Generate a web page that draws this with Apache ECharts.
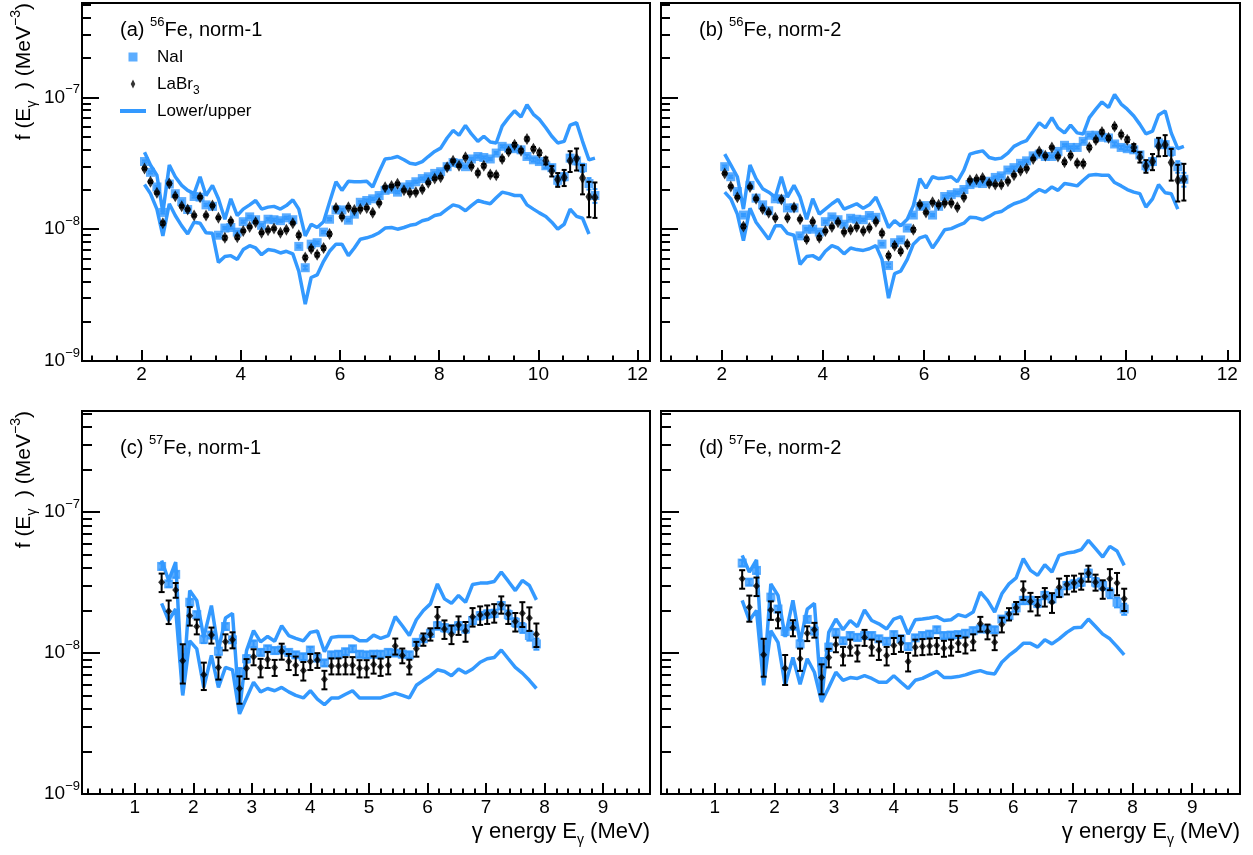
<!DOCTYPE html>
<html>
<head>
<meta charset="utf-8">
<title>Gamma strength functions of 56Fe and 57Fe</title>
<script src="https://cdn.jsdelivr.net/npm/echarts@6/dist/echarts.min.js"></script>
<style>
  html, body { margin: 0; padding: 0; background: #fff; }
  #chart { width: 1253px; height: 855px; }
</style>
</head>
<body>
<div id="chart"></div>
<script>
// Gamma-ray strength function f(Eγ), values in units of 1e-8 MeV^-3.
const UNIT = 1e-8;

// ---- 56Fe (upper row): gamma energies in MeV ----
const energyFe56 = [2.06, 2.18, 2.31, 2.43, 2.56, 2.68, 2.81, 2.93, 3.06, 3.18,
  3.30, 3.43, 3.55, 3.68, 3.80, 3.93, 4.05, 4.18, 4.30, 4.42,
  4.55, 4.67, 4.80, 4.92, 5.05, 5.17, 5.30, 5.42, 5.54, 5.67,
  5.79, 5.92, 6.04, 6.17, 6.29, 6.41, 6.54, 6.66, 6.79, 6.91,
  7.04, 7.16, 7.29, 7.41, 7.53, 7.66, 7.78, 7.91, 8.03, 8.16,
  8.28, 8.40, 8.53, 8.65, 8.78, 8.90, 9.03, 9.15, 9.27, 9.40,
  9.52, 9.65, 9.77, 9.90, 10.02, 10.15, 10.27, 10.39, 10.52, 10.64,
  10.77, 10.89, 11.02, 11.14];

// (a) 56Fe, norm-1
const naiFe56n1 = [3.26, 2.70, 2.09, 1.34, 2.20, 1.86, 1.62, 1.41, 1.77, 1.75,
  1.53, 1.49, 0.90, 1.02, 1.03, 0.95, 1.14, 1.24, 1.18, 1.07,
  1.19, 1.18, 1.16, 1.22, 1.18, 0.74, 0.51, 0.77, 0.79, 0.95,
  1.19, 1.40, 1.40, 1.17, 1.30, 1.60, 1.65, 1.70, 1.80, 1.97,
  2.01, 1.91, 2.09, 2.18, 2.29, 2.42, 2.50, 2.65, 2.73, 2.98,
  3.20, 3.16, 2.98, 3.41, 3.56, 3.50, 3.41, 3.78, 4.25, 4.12,
  4.08, 4.00, 3.56, 3.36, 3.26, 3.03, 2.93, 2.35, 2.50, 3.46,
  3.30, 2.93, 2.22, 1.80];
const naiErrFe56n1 = [2, 2, 2, 2, 2, 2, 2, 2, 2, 2, 2, 2, 2, 2, 2, 2, 2, 2, 2, 2,
  2, 2, 2, 2, 2, 2, 3, 2, 2, 2, 2, 2, 2, 2, 2, 2, 2, 2, 2, 2,
  2, 2, 2, 2, 2, 2, 2, 2, 2, 2, 2, 2, 2, 2, 2, 2, 2, 2, 2, 3,
  3, 3, 3, 3, 3, 4, 5, 8, 6, 6, 6, 7, 10, 12];
const labrFe56n1 = [2.89, 2.29, 1.89, 1.11, 2.22, 1.78, 1.49, 1.41, 1.27, 1.75,
  1.27, 1.51, 1.22, 0.86, 1.15, 0.87, 0.97, 1.04, 1.13, 0.94,
  0.98, 1.01, 0.94, 0.99, 1.11, 0.90, 0.61, 0.71, 0.64, 0.72,
  0.92, 1.45, 1.24, 1.47, 1.40, 1.42, 1.45, 1.33, 1.58, 2.08,
  2.13, 2.21, 1.97, 1.89, 1.91, 2.01, 2.25, 2.42, 2.48, 2.95,
  3.30, 3.03, 3.52, 3.00, 2.67, 3.03, 2.60, 2.57, 3.41, 3.89,
  4.38, 3.94, 4.84, 4.08, 3.80, 3.30, 2.76, 2.38, 2.47, 3.31,
  3.44, 2.45, 1.76, 1.74];
const labrErrFe56n1 = [2, 2, 2, 3, 2, 2, 2, 2, 2, 2, 2, 2, 2, 3, 2, 3, 2, 2, 2, 2,
  2, 2, 2, 2, 2, 3, 3, 3, 3, 3, 3, 2, 2, 2, 2, 2, 2, 2, 2, 2,
  2, 2, 2, 2, 2, 2, 2, 2, 2, 2, 2, 2, 2, 2, 3, 3, 3, 3, 3, 3,
  3, 3, 3, 3, 4, 6, 9, 12, 14, 18, 19, 25, 30, 30];
const upperFe56n1 = [3.84, 3.07, 2.57, 1.34, 3.07, 2.50, 2.15, 1.97, 1.86, 2.50,
  1.80, 2.15, 1.70, 1.19, 1.70, 1.27, 1.42, 1.53, 1.65, 1.42,
  1.47, 1.49, 1.42, 1.51, 1.67, 1.42, 0.89, 1.09, 1.03, 1.14,
  1.60, 2.29, 1.97, 2.31, 2.29, 2.29, 2.31, 2.09, 2.73, 3.41,
  3.46, 3.56, 3.36, 3.16, 3.11, 3.26, 3.56, 3.89, 4.12, 4.92,
  5.61, 5.16, 6.13, 5.28, 4.64, 5.07, 4.59, 4.51, 6.05, 7.02,
  7.90, 7.10, 8.78, 7.44, 6.81, 5.88, 5.07, 4.51, 4.64, 6.16,
  6.42, 4.64, 3.36, 3.46];
const lowerFe56n1 = [2.18, 1.86, 1.42, 0.89, 1.56, 1.27, 1.06, 0.92, 1.13, 1.11,
  0.94, 0.93, 0.56, 0.62, 0.63, 0.59, 0.70, 0.75, 0.72, 0.64,
  0.70, 0.69, 0.66, 0.68, 0.65, 0.48, 0.27, 0.43, 0.45, 0.57,
  0.68, 0.77, 0.77, 0.63, 0.72, 0.84, 0.86, 0.89, 0.94, 1.02,
  1.03, 1.00, 1.03, 1.07, 1.09, 1.16, 1.19, 1.27, 1.30, 1.42,
  1.53, 1.49, 1.38, 1.51, 1.65, 1.60, 1.56, 1.73, 1.91, 1.86,
  1.80, 1.80, 1.53, 1.42, 1.33, 1.25, 1.13, 1.00, 1.09, 1.42,
  1.25, 1.21, 0.92];

// (b) 56Fe, norm-2
const naiFe56n2 = [2.98, 2.50, 1.93, 1.28, 2.15, 1.72, 1.53, 1.38, 1.70, 1.69,
  1.45, 1.45, 0.89, 1.00, 1.00, 0.95, 1.14, 1.24, 1.18, 1.09,
  1.21, 1.19, 1.18, 1.27, 1.23, 0.77, 0.53, 0.79, 0.83, 1.02,
  1.28, 1.49, 1.51, 1.28, 1.49, 1.77, 1.83, 1.89, 2.00, 2.18,
  2.24, 2.22, 2.31, 2.47, 2.54, 2.81, 2.93, 3.16, 3.30, 3.60,
  3.71, 3.56, 3.56, 3.89, 4.33, 4.17, 4.17, 4.64, 5.16, 5.16,
  4.98, 4.92, 4.43, 4.17, 4.08, 4.00, 3.66, 3.03, 3.26, 4.51,
  4.38, 3.89, 2.98, 2.39];
const naiErrFe56n2 = [2, 2, 2, 2, 2, 2, 2, 2, 2, 2, 2, 2, 2, 2, 2, 2, 2, 2, 2, 2,
  2, 2, 2, 2, 2, 2, 3, 2, 2, 2, 2, 2, 2, 2, 2, 2, 2, 2, 2, 2,
  2, 2, 2, 2, 2, 2, 2, 2, 2, 2, 2, 2, 2, 2, 2, 2, 2, 2, 2, 3,
  3, 3, 3, 3, 3, 4, 5, 8, 6, 8, 6, 7, 10, 12];
const labrFe56n2 = [2.65, 2.11, 1.75, 1.05, 2.09, 1.70, 1.42, 1.33, 1.22, 1.68,
  1.22, 1.46, 1.19, 0.84, 1.14, 0.86, 0.97, 1.04, 1.13, 0.95,
  0.99, 1.04, 0.97, 1.02, 1.14, 0.93, 0.63, 0.75, 0.68, 0.77,
  0.99, 1.54, 1.34, 1.60, 1.53, 1.58, 1.58, 1.47, 1.75, 2.35,
  2.39, 2.45, 2.22, 2.18, 2.18, 2.31, 2.57, 2.78, 2.89, 3.41,
  3.89, 3.60, 4.17, 3.56, 3.22, 3.62, 3.16, 3.14, 4.17, 4.75,
  5.47, 4.92, 6.00, 5.22, 4.78, 4.17, 3.52, 3.01, 3.26, 4.25,
  4.38, 3.20, 2.35, 2.39];
const labrErrFe56n2 = [2, 2, 2, 3, 2, 2, 2, 2, 2, 2, 2, 2, 2, 3, 2, 3, 2, 2, 2, 2,
  2, 2, 2, 2, 2, 3, 3, 3, 3, 3, 3, 2, 2, 2, 2, 2, 2, 2, 2, 2,
  2, 2, 2, 2, 2, 2, 2, 2, 2, 2, 2, 2, 2, 2, 3, 3, 3, 3, 3, 3,
  3, 3, 3, 3, 4, 6, 9, 11, 14, 16, 18, 27, 31, 31];
const upperFe56n2 = [3.71, 3.07, 2.50, 1.42, 3.07, 2.42, 2.03, 1.91, 1.75, 2.50,
  1.75, 2.15, 1.75, 1.19, 1.70, 1.30, 1.42, 1.56, 1.68, 1.42,
  1.49, 1.56, 1.44, 1.53, 1.75, 1.38, 1.03, 1.16, 1.06, 1.19,
  1.51, 2.42, 2.05, 2.50, 2.42, 2.45, 2.50, 2.29, 2.81, 3.71,
  3.84, 3.93, 3.50, 3.41, 3.46, 3.78, 4.25, 4.51, 4.70, 5.54,
  6.42, 5.88, 7.02, 5.88, 5.38, 6.16, 5.38, 5.28, 7.02, 8.14,
  9.23, 8.38, 10.5, 8.89, 8.14, 7.23, 6.24, 5.28, 5.54, 7.35,
  7.90, 5.38, 4.08, 4.25];
const lowerFe56n2 = [1.91, 1.70, 1.30, 0.82, 1.44, 1.13, 0.97, 0.84, 1.06, 1.06,
  0.93, 0.90, 0.54, 0.62, 0.63, 0.59, 0.68, 0.75, 0.72, 0.65,
  0.72, 0.70, 0.69, 0.71, 0.75, 0.59, 0.30, 0.46, 0.48, 0.59,
  0.77, 0.86, 0.89, 0.72, 0.84, 0.99, 1.01, 1.06, 1.11, 1.23,
  1.22, 1.18, 1.25, 1.33, 1.36, 1.47, 1.56, 1.62, 1.70, 1.86,
  2.00, 1.91, 2.09, 1.97, 2.22, 2.18, 2.13, 2.35, 2.57, 2.60,
  2.57, 2.57, 2.26, 2.13, 2.00, 1.91, 1.86, 1.47, 1.70, 2.18,
  1.89, 1.86, 1.42];

// ---- 57Fe (lower row): gamma energies in MeV ----
const energyFe57 = [1.46, 1.58, 1.70, 1.82, 1.94, 2.06, 2.18, 2.31, 2.43, 2.55,
  2.67, 2.79, 2.91, 3.03, 3.15, 3.27, 3.39, 3.51, 3.63, 3.75,
  3.88, 4.00, 4.12, 4.24, 4.36, 4.48, 4.60, 4.72, 4.84, 4.96,
  5.08, 5.20, 5.33, 5.45, 5.57, 5.69, 5.81, 5.93, 6.05, 6.17,
  6.29, 6.41, 6.53, 6.65, 6.77, 6.90, 7.02, 7.14, 7.26, 7.38,
  7.50, 7.62, 7.74, 7.86];

// (c) 57Fe, norm-1
const naiFe57n1 = [4.11, 3.09, 3.61, 0.92, 2.29, 1.87, 1.25, 1.34, 1.03, 1.54,
  1.24, 0.73, 0.91, 1.16, 1.01, 1.07, 1.04, 1.05, 1.01, 0.97,
  0.94, 1.05, 0.92, 0.85, 0.97, 0.98, 1.02, 1.07, 0.98, 0.97,
  0.98, 0.98, 1.01, 1.00, 0.98, 0.97, 1.19, 1.26, 1.38, 1.56,
  1.51, 1.48, 1.56, 1.48, 1.70, 1.84, 1.89, 1.91, 2.17, 1.87,
  1.65, 1.51, 1.33, 1.16];
const naiErrFe57n1 = [5, 5, 5, 6, 5, 5, 6, 5, 6, 5, 5, 7, 6, 5, 5, 5, 5, 5, 5, 5,
  5, 5, 5, 5, 5, 5, 5, 5, 5, 5, 5, 5, 5, 5, 5, 5, 5, 5, 6, 6,
  6, 6, 6, 6, 6, 6, 6, 6, 6, 7, 7, 8, 8, 9];
const labrFe57n1 = [3.18, 1.98, 2.80, 0.88, 1.84, 1.54, 0.70, 1.34, 0.79, 1.20,
  1.24, 0.56, 0.78, 0.94, 0.79, 0.90, 0.79, 1.03, 0.87, 0.82,
  0.75, 0.87, 0.89, 0.65, 0.81, 0.81, 0.82, 0.82, 0.78, 0.78,
  0.83, 0.80, 0.82, 1.12, 0.96, 0.80, 1.07, 1.25, 1.36, 1.81,
  1.48, 1.36, 1.58, 1.43, 1.81, 1.86, 1.89, 1.93, 2.21, 1.89,
  1.67, 1.91, 1.77, 1.36];
const labrErrFe57n1 = [15, 19, 12, 31, 15, 12, 22, 13, 18, 13, 13, 22, 16, 13, 15, 13, 13, 13, 13, 15,
  15, 13, 12, 15, 13, 13, 14, 14, 14, 14, 14, 14, 14, 13, 12, 12, 12, 10, 10, 17,
  15, 15, 15, 16, 15, 15, 15, 15, 14, 15, 15, 20, 19, 19];
const upperFe57n1 = [4.53, 3.27, 4.41, 0.52, 2.77, 2.36, 1.29, 2.17, 1.05, 1.77,
  1.91, 0.39, 1.04, 1.44, 1.20, 1.31, 1.21, 1.56, 1.33, 1.27,
  1.22, 1.40, 1.43, 1.02, 1.29, 1.31, 1.31, 1.31, 1.22, 1.22,
  1.34, 1.27, 1.33, 1.81, 1.56, 1.33, 1.72, 2.00, 2.23, 3.09,
  2.42, 2.25, 2.56, 2.29, 3.06, 3.13, 3.14, 3.21, 3.75, 3.23,
  2.77, 3.27, 3.01, 2.38];
const lowerFe57n1 = [2.25, 1.70, 2.05, 0.50, 1.22, 1.07, 0.57, 0.96, 0.57, 0.79,
  0.76, 0.37, 0.48, 0.62, 0.53, 0.56, 0.54, 0.57, 0.53, 0.50,
  0.48, 0.54, 0.47, 0.43, 0.48, 0.48, 0.51, 0.54, 0.48, 0.48,
  0.48, 0.48, 0.50, 0.52, 0.50, 0.48, 0.59, 0.64, 0.69, 0.76,
  0.74, 0.69, 0.77, 0.72, 0.77, 0.86, 0.91, 0.93, 1.05, 0.91,
  0.79, 0.72, 0.64, 0.56];

// (d) 57Fe, norm-2
const naiFe57n2 = [4.34, 3.18, 3.85, 1.05, 2.49, 2.05, 1.42, 1.55, 1.16, 1.73,
  1.43, 0.86, 1.10, 1.40, 1.22, 1.33, 1.29, 1.33, 1.33, 1.26,
  1.21, 1.35, 1.26, 1.11, 1.28, 1.33, 1.36, 1.46, 1.33, 1.34,
  1.35, 1.38, 1.44, 1.48, 1.48, 1.46, 1.74, 1.84, 2.09, 2.36,
  2.36, 2.25, 2.56, 2.42, 2.66, 3.01, 3.09, 3.18, 3.68, 3.18,
  3.01, 2.66, 2.29, 2.05];
const naiErrFe57n2 = [5, 5, 5, 6, 5, 5, 6, 5, 6, 5, 5, 7, 6, 5, 5, 5, 5, 5, 5, 5,
  5, 5, 5, 5, 5, 5, 5, 5, 5, 5, 5, 5, 5, 5, 5, 5, 5, 5, 6, 6,
  6, 6, 6, 6, 6, 6, 6, 6, 6, 7, 7, 8, 8, 9];
const labrFe57n2 = [3.36, 2.11, 2.98, 0.97, 2.02, 1.72, 0.78, 1.51, 0.91, 1.38,
  1.46, 0.67, 0.93, 1.15, 0.96, 1.10, 1.00, 1.29, 1.10, 1.05,
  0.96, 1.13, 1.17, 0.87, 1.10, 1.11, 1.12, 1.13, 1.08, 1.10,
  1.17, 1.14, 1.20, 1.61, 1.42, 1.19, 1.59, 1.89, 2.09, 2.80,
  2.32, 2.17, 2.51, 2.29, 2.93, 3.06, 3.13, 3.23, 3.68, 3.18,
  2.85, 3.36, 3.13, 2.42];
const labrErrFe57n2 = [15, 21, 15, 30, 15, 13, 24, 13, 18, 12, 12, 24, 15, 12, 15, 13, 13, 13, 13, 15,
  15, 13, 13, 15, 13, 13, 13, 13, 13, 13, 13, 13, 13, 12, 12, 12, 12, 10, 10, 15,
  15, 15, 15, 16, 15, 15, 13, 13, 13, 13, 15, 17, 18, 18];
const upperFe57n2 = [4.92, 3.75, 4.58, 0.62, 3.09, 2.56, 1.30, 2.36, 1.20, 2.05,
  2.25, 0.46, 1.40, 1.74, 1.46, 1.70, 1.54, 2.02, 1.70, 1.61,
  1.48, 1.74, 1.81, 1.36, 1.72, 1.74, 1.77, 1.81, 1.70, 1.72,
  1.87, 1.81, 1.95, 2.70, 2.36, 1.95, 2.63, 3.09, 3.41, 4.66,
  3.85, 3.55, 4.22, 3.75, 4.92, 5.11, 5.20, 5.40, 6.29, 5.49,
  4.79, 5.70, 5.28, 4.18];
const lowerFe57n2 = [2.36, 1.70, 2.00, 0.59, 1.44, 1.19, 0.59, 0.93, 0.60, 0.91,
  0.73, 0.45, 0.57, 0.73, 0.64, 0.67, 0.66, 0.69, 0.66, 0.62,
  0.62, 0.69, 0.62, 0.56, 0.64, 0.66, 0.70, 0.74, 0.67, 0.67,
  0.68, 0.70, 0.73, 0.75, 0.72, 0.71, 0.86, 0.96, 1.05, 1.17,
  1.17, 1.10, 1.24, 1.16, 1.26, 1.40, 1.51, 1.52, 1.74, 1.54,
  1.36, 1.26, 1.11, 0.97];

// ---- axis ticks ----
const xMajorFe56 = [2, 4, 6, 8, 10, 12];
const xMinorFe56 = [1, 1.5, 2.5, 3, 3.5, 4.5, 5, 5.5, 6.5, 7, 7.5, 8.5, 9, 9.5, 10.5, 11, 11.5];
const xMajorFe57 = [1, 2, 3, 4, 5, 6, 7, 8, 9];
const xMinorFe57 = [0.2, 0.4, 0.6, 0.8, 1.2, 1.4, 1.6, 1.8, 2.2, 2.4, 2.6, 2.8, 3.2, 3.4, 3.6, 3.8,
  4.2, 4.4, 4.6, 4.8, 5.2, 5.4, 5.6, 5.8, 6.2, 6.4, 6.6, 6.8, 7.2, 7.4, 7.6, 7.8,
  8.2, 8.4, 8.6, 8.8, 9.2, 9.4, 9.6];
const yMajor = [1e-9, 1e-8, 1e-7];
const yMinor = [2e-9, 3e-9, 4e-9, 5e-9, 6e-9, 7e-9, 8e-9, 9e-9,
  2e-8, 3e-8, 4e-8, 5e-8, 6e-8, 7e-8, 8e-8, 9e-8,
  2e-7, 3e-7, 4e-7, 5e-7];

const panelLabels = ['(a) {sup|56}Fe, norm-1', '(b) {sup|56}Fe, norm-2',
                     '(c) {sup|57}Fe, norm-1', '(d) {sup|57}Fe, norm-2'];
const yTitle = 'f (E{sub|\u03b3}  ) (MeV{sup|\u22123})';
const xTitle = '\u03b3 energy E{sub|\u03b3} (MeV)';

// ---- styling ----
const BLUE = '#3399ff';
const FONT = '"Liberation Sans", Arial, Helvetica, sans-serif';
const Y_MIN = 1e-9, Y_MAX = 5.2e-7;

const panels = [
  { box: [82, 3, 568, 358], range: [0.8, 12.25], xMajor: xMajorFe56, xMinor: xMinorFe56,
    yTick: [17, 9], yLabels: true, energy: energyFe56,
    nai: naiFe56n1, naiErr: naiErrFe56n1, labr: labrFe56n1, labrErr: labrErrFe56n1,
    upper: upperFe56n1, lower: lowerFe56n1, labrSize: [7, 12], cap: 2.5 },
  { box: [661, 3, 579, 358], range: [0.8, 12.25], xMajor: xMajorFe56, xMinor: xMinorFe56,
    yTick: [17, 9], yLabels: false, energy: energyFe56,
    nai: naiFe56n2, naiErr: naiErrFe56n2, labr: labrFe56n2, labrErr: labrErrFe56n2,
    upper: upperFe56n2, lower: lowerFe56n2, labrSize: [7, 12], cap: 2.5 },
  { box: [82, 411, 568, 383], range: [0.1, 9.8], xMajor: xMajorFe57, xMinor: xMinorFe57,
    yTick: [18, 10], yLabels: true, energy: energyFe57,
    nai: naiFe57n1, naiErr: naiErrFe57n1, labr: labrFe57n1, labrErr: labrErrFe57n1,
    upper: upperFe57n1, lower: lowerFe57n1, labrSize: [7, 8], cap: 3 },
  { box: [661, 411, 579, 383], range: [0.1, 9.8], xMajor: xMajorFe57, xMinor: xMinorFe57,
    yTick: [18, 10], yLabels: false, energy: energyFe57,
    nai: naiFe57n2, naiErr: naiErrFe57n2, labr: labrFe57n2, labrErr: labrErrFe57n2,
    upper: upperFe57n2, lower: lowerFe57n2, labrSize: [7, 8], cap: 3 }
];

function points(xs, ys) {
  return ys.map((y, i) => [xs[i], y * UNIT]);
}
function errorPoints(xs, ys, pct) {
  return ys.map((y, i) => [xs[i], y * UNIT, y * UNIT * pct[i] / 100]);
}
// vertical error bar with caps, placed through the axis scales
function errorBar(color, cap, width) {
  return function (params, api) {
    const x = api.value(0), y = api.value(1), e = api.value(2);
    const hi = api.coord([x, y + e]);
    const lo = api.coord([x, Math.max(y - e, Y_MIN)]);
    const style = { stroke: color, lineWidth: width };
    return {
      type: 'group',
      children: [
        { type: 'line', shape: { x1: hi[0], y1: hi[1], x2: lo[0], y2: lo[1] }, style },
        { type: 'line', shape: { x1: hi[0] - cap, y1: hi[1], x2: hi[0] + cap, y2: hi[1] }, style },
        { type: 'line', shape: { x1: lo[0] - cap, y1: lo[1], x2: lo[0] + cap, y2: lo[1] }, style }
      ]
    };
  };
}
function powerLabel(v) {
  const e = Math.round(Math.log10(v));
  return '{b|10}{s|' + (e < 0 ? '\u2212' + (-e) : e) + '}';
}

const DIAMOND = 'path://M0,-10L5,0L0,10L-5,0Z';
const SQUARE = 'path://M0,0L10,0L10,10L0,10Z';
const BAR = 'path://M0,0L26,0L26,4L0,4Z';
const axisLine = { show: true, onZero: false, lineStyle: { color: '#000', width: 2 } };
const grids = [], xAxes = [], yAxes = [], series = [];

panels.forEach((p, k) => {
  grids.push({ left: p.box[0], top: p.box[1], width: p.box[2], height: p.box[3],
    show: true, borderColor: '#000', borderWidth: 2, backgroundColor: 'transparent',
    containLabel: false, outerBoundsMode: 'none' });

  xAxes.push({ gridIndex: k, type: 'value', position: 'bottom', min: p.range[0], max: p.range[1],
    axisLine,
    axisTick: { show: true, inside: true, length: 11, customValues: p.xMajor,
      lineStyle: { color: '#000', width: 2 } },
    axisLabel: { show: true, customValues: p.xMajor, color: '#000', fontSize: 19,
      fontFamily: FONT, margin: 4 },
    splitLine: { show: false }, minorTick: { show: false } });
  xAxes.push({ gridIndex: k, type: 'value', position: 'bottom', min: p.range[0], max: p.range[1],
    axisLine: { show: false },
    axisTick: { show: true, inside: true, length: 5.5, customValues: p.xMinor,
      lineStyle: { color: '#000', width: 2 } },
    axisLabel: { show: false }, splitLine: { show: false } });

  yAxes.push({ gridIndex: k, type: 'log', logBase: 10, position: 'left', min: Y_MIN, max: Y_MAX,
    axisLine,
    axisTick: { show: true, inside: true, length: p.yTick[0], customValues: yMajor,
      lineStyle: { color: '#000', width: 2 } },
    axisLabel: { show: p.yLabels, customValues: yMajor, formatter: powerLabel, margin: 2,
      color: '#000', fontFamily: FONT,
      rich: { b: { fontSize: 19, lineHeight: 28, fontFamily: FONT, color: '#000' },
              s: { fontSize: 13, lineHeight: 13, verticalAlign: 'top', fontFamily: FONT, color: '#000' } } },
    splitLine: { show: false } });
  yAxes.push({ gridIndex: k, type: 'log', logBase: 10, position: 'left', min: Y_MIN, max: Y_MAX,
    axisLine: { show: false },
    axisTick: { show: true, inside: true, length: p.yTick[1], customValues: yMinor,
      lineStyle: { color: '#000', width: 2 } },
    axisLabel: { show: false }, splitLine: { show: false } });

  const xi = 2 * k, yi = 2 * k;
  const lineStyle = { color: BLUE, width: 3.5 };
  series.push({ name: 'Lower/upper', type: 'line', xAxisIndex: xi, yAxisIndex: yi,
    data: points(p.energy, p.upper), showSymbol: false, symbol: 'none',
    lineStyle, itemStyle: { color: BLUE }, z: 2, silent: true });
  series.push({ name: 'Lower/upper', type: 'line', xAxisIndex: xi, yAxisIndex: yi,
    data: points(p.energy, p.lower), showSymbol: false, symbol: 'none',
    lineStyle, itemStyle: { color: BLUE }, z: 2, silent: true });
  series.push({ name: 'NaI', type: 'scatter', xAxisIndex: xi, yAxisIndex: yi,
    data: points(p.energy, p.nai), symbol: 'rect', symbolSize: 9,
    itemStyle: { color: BLUE }, z: 4, silent: true });
  series.push({ name: 'NaI', type: 'custom', xAxisIndex: xi, yAxisIndex: yi,
    data: errorPoints(p.energy, p.nai, p.naiErr), encode: { x: 0, y: 1 },
    renderItem: errorBar(BLUE, p.cap, 2), itemStyle: { color: BLUE }, z: 3, silent: true, clip: true });
  series.push({ name: 'LaBr3', type: 'scatter', xAxisIndex: xi, yAxisIndex: yi,
    data: points(p.energy, p.labr), symbol: DIAMOND, symbolSize: p.labrSize,
    itemStyle: { color: '#000' }, z: 6, silent: true });
  series.push({ name: 'LaBr3', type: 'custom', xAxisIndex: xi, yAxisIndex: yi,
    data: errorPoints(p.energy, p.labr, p.labrErr), encode: { x: 0, y: 1 },
    renderItem: errorBar('#000', p.cap, 2), itemStyle: { color: '#000' }, z: 5, silent: true, clip: true });
});

const titles = panels.map((p, k) => ({
  text: panelLabels[k], left: p.box[0] + 38, top: p.box[1] + (k < 2 ? 13 : 23),
  padding: 0,
  textStyle: { fontSize: 20, fontWeight: 'normal', color: '#000', fontFamily: FONT, lineHeight: 28,
    rich: { sup: { fontSize: 13, lineHeight: 13, verticalAlign: 'top', fontFamily: FONT, color: '#000' } } }
}));

const titleRich = {
  sub: { fontSize: 14, lineHeight: 14, verticalAlign: 'bottom', fontFamily: FONT, fill: '#000' },
  sup: { fontSize: 14, lineHeight: 14, verticalAlign: 'top', fontFamily: FONT, fill: '#000' }
};
const graphic = [
  { type: 'text', x: 24, y: 3, rotation: Math.PI / 2, silent: true,
    style: { text: yTitle, fontSize: 21, fontFamily: FONT, fill: '#000', lineHeight: 30,
      align: 'right', verticalAlign: 'middle', rich: titleRich } },
  { type: 'text', x: 24, y: 411, rotation: Math.PI / 2, silent: true,
    style: { text: yTitle, fontSize: 21, fontFamily: FONT, fill: '#000', lineHeight: 30,
      align: 'right', verticalAlign: 'middle', rich: titleRich } },
  { type: 'text', x: 650, y: 832, silent: true,
    style: { text: xTitle, fontSize: 22, fontFamily: FONT, fill: '#000', lineHeight: 30,
      align: 'right', verticalAlign: 'middle', rich: titleRich } },
  { type: 'text', x: 1240, y: 832, silent: true,
    style: { text: xTitle, fontSize: 22, fontFamily: FONT, fill: '#000', lineHeight: 30,
      align: 'right', verticalAlign: 'middle', rich: titleRich } }
];

const chart = echarts.init(document.getElementById('chart'), null, { renderer: 'canvas' });
chart.setOption({
  animation: false,
  backgroundColor: '#fff',
  textStyle: { fontFamily: FONT },
  title: titles,
  legend: {
    left: 120, top: 44, orient: 'vertical', padding: 0,
    itemWidth: 26, itemHeight: 9, itemGap: 1, selectedMode: false, symbolKeepAspect: true,
    data: [
      { name: 'NaI', icon: SQUARE, itemStyle: { color: BLUE } },
      { name: 'LaBr3', icon: DIAMOND, itemStyle: { color: '#000' } },
      { name: 'Lower/upper', icon: BAR, itemStyle: { color: BLUE } }
    ],
    formatter: name => (name === 'LaBr3' ? 'LaBr{sub|3}' : name),
    textStyle: { fontSize: 17, color: '#000', fontFamily: FONT, lineHeight: 26, padding: [0, 0, 0, 6],
      rich: { sub: { fontSize: 12, lineHeight: 12, verticalAlign: 'bottom', fontFamily: FONT, color: '#000' } } }
  },
  grid: grids,
  xAxis: xAxes,
  yAxis: yAxes,
  graphic,
  series
});
</script>
</body>
</html>
